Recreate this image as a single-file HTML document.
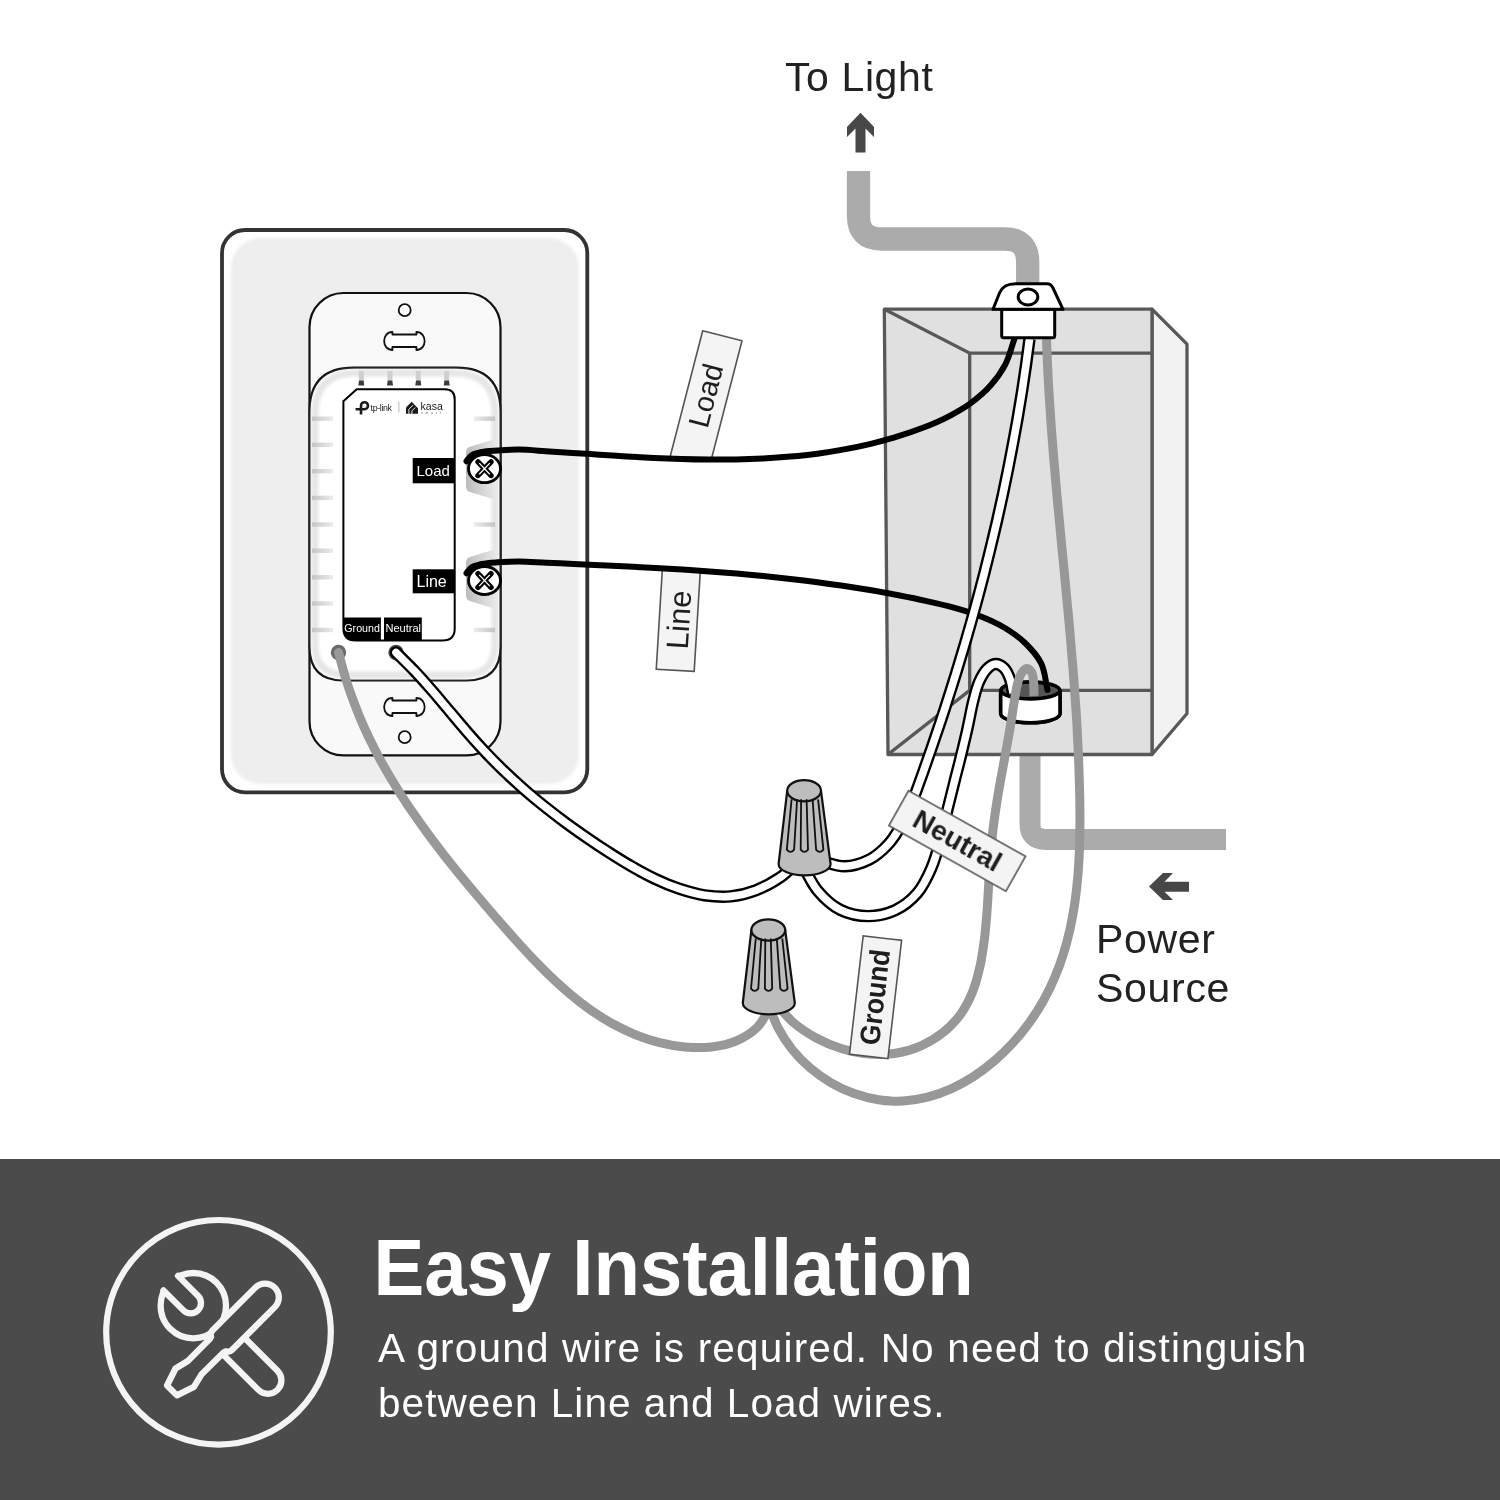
<!DOCTYPE html>
<html><head><meta charset="utf-8">
<style>
html,body{margin:0;padding:0;width:1500px;height:1500px;overflow:hidden;background:#fff;}
body{position:relative;font-family:"Liberation Sans",sans-serif;}
svg{position:absolute;left:0;top:0;font-family:"Liberation Sans",sans-serif;will-change:transform;}
.band{position:absolute;left:0;top:1159px;width:1500px;height:341px;background:#4b4b4b;}
.t{position:absolute;white-space:nowrap;color:#fff;will-change:transform;}
</style></head><body>
<div class="band"></div>
<svg width="1500" height="1500" viewBox="0 0 1500 1500">
<path d="M858.5,171 V216 Q858.5,239 881.5,239 H1004.7 Q1027.7,239 1027.7,262 V290" fill="none" stroke="#ababab" stroke-width="23.3"/>
<path d="M1030,740 V824 Q1030,839.4 1045.5,839.4 H1226" fill="none" stroke="#ababab" stroke-width="21"/>
<path d="M860.5,112.8 L874,127 V137 L865.5,128.6 V152.5 H855.5 V128.6 L847,137 V127 Z" fill="#474747"/>
<path d="M1149,886.5 L1163,873 H1173 L1164.5,881.7 H1189 V891.7 H1164.5 L1173,900 H1163 Z" fill="#474747"/>
<defs><filter id="blur1" x="-5%" y="-5%" width="110%" height="110%"><feGaussianBlur stdDeviation="1.6"/></filter><filter id="blur2" x="-10%" y="-10%" width="120%" height="120%"><feGaussianBlur stdDeviation="2.5"/></filter><linearGradient id="tickH" x1="0" x2="1" y1="0" y2="0"><stop offset="0" stop-color="#c4c4c4"/><stop offset="1" stop-color="#ececec"/></linearGradient><linearGradient id="tickHR" x1="0" x2="1" y1="0" y2="0"><stop offset="0" stop-color="#ececec"/><stop offset="1" stop-color="#c4c4c4"/></linearGradient><linearGradient id="led" x1="0" x2="0" y1="0" y2="1"><stop offset="0" stop-color="#ececec"/><stop offset="0.55" stop-color="#c4c4c4"/><stop offset="0.7" stop-color="#666"/><stop offset="1" stop-color="#444"/></linearGradient><linearGradient id="brk" x1="0" x2="1" y1="0" y2="0"><stop offset="0" stop-color="#bcbcbc"/><stop offset="1" stop-color="#e9e9e9"/></linearGradient></defs>
<rect x="222" y="230" width="365.3" height="562.3" rx="23" fill="#fff" stroke="#333" stroke-width="3.8"/>
<rect x="231" y="238" width="348" height="546" rx="30" fill="#eeeeee" filter="url(#blur1)"/>
<rect x="309.5" y="293" width="191" height="462.4" rx="34" fill="#f9f9f9" stroke="#111" stroke-width="2.2"/>
<circle cx="404.7" cy="310.2" r="6" fill="#fff" stroke="#111" stroke-width="1.8"/>
<circle cx="404.7" cy="737.2" r="6" fill="#fff" stroke="#111" stroke-width="1.8"/>
<path d="M392.4,332 C381.4,332 381.4,350 392.4,350 L392.4,347 L416.4,347 L416.4,350 C427.4,350 427.4,332 416.4,332 L416.4,334.5 L392.4,334.5 Z" fill="#fff" stroke="#111" stroke-width="1.8" stroke-linejoin="round"/>
<path d="M392.4,698 C381.4,698 381.4,716 392.4,716 L392.4,713 L416.4,713 L416.4,716 C427.4,716 427.4,698 416.4,698 L416.4,700.5 L392.4,700.5 Z" fill="#fff" stroke="#111" stroke-width="1.8" stroke-linejoin="round"/>
<path d="M309.5,411.6 Q309.5,367.6 353.5,367.6 H456.5 Q500.5,367.6 500.5,411.6 V646.5 Q500.5,680.5 466.5,680.5 H343.5 Q309.5,680.5 309.5,646.5 Z" fill="#fff" stroke="#111" stroke-width="2.2"/>
<path d="M315,414 Q315,373 356,373 H454 Q495,373 495,414 V644 Q495,675 464,675 H346 Q315,675 315,644 Z" fill="none" stroke="#e6e6e6" stroke-width="7" filter="url(#blur1)"/>
<rect x="312" y="416.5" width="21" height="4.4" fill="url(#tickH)"/>
<rect x="312" y="442.6" width="21" height="4.4" fill="url(#tickH)"/>
<rect x="312" y="469" width="21" height="4.4" fill="url(#tickH)"/>
<rect x="312" y="495.7" width="21" height="4.4" fill="url(#tickH)"/>
<rect x="312" y="522.3" width="21" height="4.4" fill="url(#tickH)"/>
<rect x="312" y="548.5" width="21" height="4.4" fill="url(#tickH)"/>
<rect x="312" y="575.1" width="21" height="4.4" fill="url(#tickH)"/>
<rect x="312" y="601.3" width="21" height="4.4" fill="url(#tickH)"/>
<rect x="312" y="627.8" width="21" height="4.4" fill="url(#tickH)"/>
<rect x="474" y="416.5" width="21" height="4.4" fill="url(#tickHR)"/>
<rect x="474" y="522.3" width="21" height="4.4" fill="url(#tickHR)"/>
<rect x="474" y="627.8" width="21" height="4.4" fill="url(#tickHR)"/>
<rect x="358.8" y="370.8" width="5" height="9.8" fill="#cfcfcf"/><path d="M359,380.4 H363.6 L364.3,385.5 H358.3 Z" fill="#3c3c3c"/>
<rect x="387.5" y="370.8" width="5" height="9.8" fill="#cfcfcf"/><path d="M387.7,380.4 H392.3 L393,385.5 H387 Z" fill="#3c3c3c"/>
<rect x="415.8" y="370.8" width="5" height="9.8" fill="#cfcfcf"/><path d="M416,380.4 H420.6 L421.3,385.5 H415.3 Z" fill="#3c3c3c"/>
<rect x="444.2" y="370.8" width="5" height="9.8" fill="#cfcfcf"/><path d="M444.4,380.4 H449 L449.7,385.5 H443.7 Z" fill="#3c3c3c"/>
<path d="M470,446.7 L496,438.7 V500 L470,492 Q466,491 466,486 V452.7 Q466,447.7 470,446.7 Z" fill="url(#brk)"/>
<path d="M470,557 L496,549 V609 L470,601 Q466,600 466,595 V563 Q466,558 470,557 Z" fill="url(#brk)"/>
<path d="M356.7,389.3 H444.7 Q454.7,389.3 454.7,399.3 V628.6 Q454.7,640.6 442.7,640.6 H355.4 Q343.4,640.6 343.4,628.6 V401.2 Z" fill="#fff" stroke="#000" stroke-width="2"/>
<rect x="412.7" y="458" width="42" height="25.3" fill="#000"/>
<rect x="412.7" y="569.3" width="42" height="24" fill="#000"/>
<path d="M343.4,617.5 H380.9 V640.6 H355.4 Q343.4,640.6 343.4,628.6 Z" fill="#000"/>
<rect x="384" y="617.5" width="37.8" height="23.1" fill="#000"/>
<text x="416.5" y="476" font-size="15" fill="#fff">Load</text>
<text x="416.5" y="586.8" font-size="16" fill="#fff">Line</text>
<text x="344.3" y="632.3" font-size="10.5" fill="#fff" textLength="35.6" lengthAdjust="spacingAndGlyphs">Ground</text>
<text x="385.4" y="632.3" font-size="10.5" fill="#fff" textLength="35.7" lengthAdjust="spacingAndGlyphs">Neutral</text>
<path d="M361,414.5 V405.7 A3.5,3.5 0 1 1 364.5,409.2 H355.6" stroke="#1a1a1a" stroke-width="2.6" fill="none"/>
<text x="370.6" y="411.3" font-size="8.6" fill="#1a1a1a" letter-spacing="-0.35" textLength="21" lengthAdjust="spacingAndGlyphs">tp-link</text>
<rect x="398.5" y="401.5" width="0.8" height="11" fill="#aaa"/>
<path d="M406,413.7 V407.6 L411.6,401.8 L418,408.2 V413.7 Z" fill="#1a1a1a"/><path d="M408.9,414.2 V409.3 L412.9,405.2 M411.9,414.2 V410.9 L415.2,407.6" fill="none" stroke="#fff" stroke-width="0.9"/>
<text x="420.5" y="409.6" font-size="10.8" fill="#1a1a1a" textLength="22.3" lengthAdjust="spacingAndGlyphs">kasa</text>
<text x="421" y="414" font-size="3.4" fill="#666" letter-spacing="2.9">smart</text>
<path d="M1152,309.2 L1187,344.2 V713.5 L1152,754.5 Z" fill="#f2f2f2" stroke="#585858" stroke-width="3.3" stroke-linejoin="round"/>
<path d="M884.3,309.2 H1152 V754.5 H888 Z" fill="#e0e0e0" stroke="#585858" stroke-width="3.3" stroke-linejoin="round"/>
<path d="M884.3,309.2 L969.7,353.2 H1152 M969.7,353.2 V690.4 H1152 M888,754.5 L969.7,690.4" fill="none" stroke="#585858" stroke-width="3.3"/>
<path d="M1000.7,690.7 V714 A29.7,9.3 0 0 0 1060,714 V690.7" fill="#fff" stroke="#000" stroke-width="3.6"/>
<ellipse cx="1030.3" cy="690.7" rx="29.7" ry="8.8" fill="#555" stroke="#000" stroke-width="3.6"/>
<circle cx="338.5" cy="652.5" r="7.7" fill="#6a6a6a"/>
<circle cx="396" cy="652.5" r="7.7" fill="#4a4a4a"/>
<ellipse cx="484.5" cy="468.7" rx="16" ry="14" fill="#fff" stroke="#000" stroke-width="2.8"/>
<path d="M478,461.9 L491,475.5 M491,461.9 L478,475.5" stroke="#000" stroke-width="5.4" stroke-linecap="round"/>
<path d="M479.2,463.1 L489.8,474.3 M489.8,463.1 L479.2,474.3" stroke="#fff" stroke-width="1.3"/>
<ellipse cx="484.5" cy="580.5" rx="16" ry="14" fill="#fff" stroke="#000" stroke-width="2.8"/>
<path d="M478,573.7 L491,587.3 M491,573.7 L478,587.3" stroke="#000" stroke-width="5.4" stroke-linecap="round"/>
<path d="M479.2,574.9 L489.8,586.1 M489.8,574.9 L479.2,586.1" stroke="#fff" stroke-width="1.3"/>
<path d="M702.7,330.7 L742,340.8 L711.3,459.5 L669.4,459.5 Z" fill="#f4f4f4" stroke="#555" stroke-width="1.6" stroke-linejoin="round"/><g transform="translate(705.5,395.5) rotate(-75.5)"><text x="0" y="10.4" font-size="29" fill="#1e1e1e" text-anchor="middle">Load</text></g>
<g transform="translate(678.3,619.7) rotate(3.5)"><rect x="-19" y="-50.8" width="38" height="101.5" fill="#f4f4f4" stroke="#555" stroke-width="1.6"/><g transform="rotate(-90)"><text x="0" y="11.2" font-size="31" font-weight="400" fill="#1e1e1e" text-anchor="middle" letter-spacing="0">Line</text></g></g>
<path d="M768,1002 C771.2,1010.4 773.6,1019.2 777.7,1027.1 C781.7,1034.9 786.6,1042.4 792,1049.2 C797.4,1056 803.5,1062.3 810.1,1067.9 C816.6,1073.5 823.7,1078.5 831.1,1082.8 C838.4,1087 846.3,1090.7 854.2,1093.5 C862.1,1096.3 870.3,1098.4 878.5,1099.7 C886.7,1100.9 895.1,1101.4 903.2,1101 C911.4,1100.6 919.6,1099.2 927.5,1097.2 C935.5,1095.2 943.5,1092.3 951.1,1088.9 C958.7,1085.4 966.2,1081.2 973.4,1076.6 C980.6,1071.9 987.6,1066.6 994.2,1061 C1000.8,1055.3 1007.1,1049.1 1013,1042.7 C1018.9,1036.3 1024.5,1029.4 1029.6,1022.3 C1034.6,1015.3 1039.3,1008 1043.5,1000.5 C1047.7,993.1 1051.4,985.4 1054.7,977.6 C1058,969.9 1060.9,961.9 1063.4,953.9 C1066,945.8 1068.1,937.6 1070,929.3 C1071.8,921 1073.3,912.6 1074.6,904.2 C1075.9,895.7 1076.8,887.2 1077.6,878.6 C1078.4,870 1078.9,861.3 1079.3,852.7 C1079.7,844 1079.9,835.3 1079.9,826.6 C1080,817.9 1079.9,809.2 1079.8,800.5 C1079.7,791.8 1079.4,783.1 1079.1,774.4 C1078.9,765.8 1078.5,757.2 1078.1,748.6 C1077.7,740 1077.3,731.4 1076.8,722.8 C1076.3,714.3 1075.7,705.7 1075.1,697.2 C1074.5,688.7 1073.9,680.1 1073.2,671.6 C1072.5,663.1 1071.8,654.6 1071.1,646.2 C1070.4,637.7 1069.6,629.2 1068.9,620.7 C1068.1,612.3 1067.3,603.8 1066.5,595.3 C1065.7,586.9 1064.9,578.4 1064.1,570 C1063.3,561.5 1062.4,553 1061.6,544.6 C1060.8,536.1 1060,527.6 1059.2,519.1 C1058.4,510.7 1057.6,502.2 1056.8,493.7 C1056,485.2 1055.3,476.7 1054.6,468.2 C1053.8,459.6 1053.1,451.1 1052.5,442.6 C1051.8,434 1051.1,425.5 1050.6,416.9 C1050,408.3 1049.4,399.7 1048.9,391.1 C1048.4,382.4 1047.9,373.8 1047.5,365.1 C1047.1,356.4 1046.8,347.7 1046.5,339" fill="none" stroke="#989898" stroke-width="9"/>
<path d="M466.5,461.2 C468.2,459.3 469.3,457 471.5,455.5 C474.1,453.7 477.9,452.8 481.7,452 C486.4,451 492,450.9 497.7,450.5 C504.3,450.1 511.5,449.5 519,449.6 C527.4,449.7 536.7,450.6 545.6,451.2 C554.5,451.7 563.5,452.3 572.5,452.9 C581.4,453.5 590.5,454.1 599.5,454.7 C608.5,455.3 617.6,455.9 626.6,456.4 C635.7,457 644.8,457.5 653.9,457.9 C663,458.3 672.1,458.7 681.2,459 C690.4,459.3 699.5,459.5 708.6,459.6 C717.7,459.6 726.8,459.6 735.9,459.4 C745,459.3 754.1,459 763.2,458.5 C772.2,458.1 781.3,457.5 790.3,456.6 C799.3,455.8 808.3,454.9 817.3,453.7 C826.3,452.5 835.2,451.1 844.1,449.4 C853,447.8 861.9,445.9 870.7,443.8 C879.5,441.7 888.3,439.3 897,436.6 C905.7,434 914.4,431.1 922.9,427.8 C931.4,424.5 939.9,421 947.9,416.8 C955.8,412.7 963.7,408.3 970.8,403.1 C977.8,397.9 984.6,392.3 990.3,385.8 C996.1,379.4 1001.3,372.2 1005.4,364.4 C1009.5,356.3 1011.6,346.8 1014.7,338" fill="none" stroke="#000" stroke-width="6" stroke-linecap="round"/>
<path d="M466.5,573.2 C468.2,571.3 469.3,569 471.5,567.5 C474.1,565.7 477.9,564.9 481.7,564 C486.4,563 492,562.7 497.7,562.3 C504.3,561.8 511.5,561.4 519,561.4 C527.6,561.4 537.3,562.3 546.5,562.7 C555.6,563.1 564.7,563.6 573.8,564 C582.9,564.4 592,564.8 601.1,565.2 C610.1,565.7 619.2,566.1 628.3,566.6 C637.3,567 646.3,567.5 655.4,568 C664.4,568.5 673.4,569.1 682.4,569.6 C691.4,570.2 700.5,570.8 709.5,571.5 C718.5,572.1 727.5,572.8 736.5,573.6 C745.5,574.4 754.4,575.2 763.4,576.1 C772.4,577 781.4,577.9 790.4,578.9 C799.4,579.9 808.4,581 817.4,582.2 C826.4,583.4 835.4,584.6 844.4,586 C853.4,587.4 862.4,588.8 871.4,590.3 C880.5,591.9 889.5,593.5 898.5,595.3 C907.6,597.1 916.6,598.9 925.7,600.9 C934.7,602.9 943.9,604.9 952.8,607.4 C961.6,609.8 970.5,612.4 979,615.7 C987.3,618.9 995.6,622.5 1003.3,627 C1010.8,631.4 1018.3,636.5 1024.6,642.5 C1030.9,648.6 1037.4,655.6 1041.2,663.4 C1045.1,671.4 1045.4,681.1 1047.5,690" fill="none" stroke="#000" stroke-width="6" stroke-linecap="round"/>
<path d="M818,860 C826.9,862.1 836,866.4 844.6,866.3 C853,866.1 861.7,863.4 869.1,859.7 C876.3,856 882.8,850.2 888.4,844.1 C894.1,837.9 898.5,830.3 902.7,822.7 C907,815 910.3,806.4 913.7,798 C917,789.7 919.9,781 923,772.6 C925.9,764.2 928.8,756 931.7,747.7 C934.5,739.5 937.3,731.2 940.1,723 C942.9,714.7 945.6,706.4 948.2,698.1 C950.9,689.8 953.5,681.4 956.1,673.1 C958.7,664.7 961.2,656.3 963.7,647.9 C966.2,639.5 968.6,631.1 971,622.6 C973.4,614.2 975.7,605.7 978,597.2 C980.3,588.7 982.5,580.3 984.7,571.7 C986.8,563.2 989,554.7 991,546.1 C993.1,537.6 995.1,529 997.1,520.5 C999,511.9 1000.9,503.3 1002.8,494.7 C1004.6,486.1 1006.4,477.5 1008.1,468.9 C1009.8,460.3 1011.5,451.6 1013.1,443 C1014.7,434.4 1016.3,425.7 1017.8,417.1 C1019.3,408.4 1020.7,399.7 1022.1,391.1 C1023.4,382.4 1024.7,373.7 1026,365 C1027.2,356.4 1028.3,347.7 1029.5,339" fill="none" stroke="#000" stroke-width="12.4" stroke-linecap="butt"/><path d="M818,860 C826.9,862.1 836,866.4 844.6,866.3 C853,866.1 861.7,863.4 869.1,859.7 C876.3,856 882.8,850.2 888.4,844.1 C894.1,837.9 898.5,830.3 902.7,822.7 C907,815 910.3,806.4 913.7,798 C917,789.7 919.9,781 923,772.6 C925.9,764.2 928.8,756 931.7,747.7 C934.5,739.5 937.3,731.2 940.1,723 C942.9,714.7 945.6,706.4 948.2,698.1 C950.9,689.8 953.5,681.4 956.1,673.1 C958.7,664.7 961.2,656.3 963.7,647.9 C966.2,639.5 968.6,631.1 971,622.6 C973.4,614.2 975.7,605.7 978,597.2 C980.3,588.7 982.5,580.3 984.7,571.7 C986.8,563.2 989,554.7 991,546.1 C993.1,537.6 995.1,529 997.1,520.5 C999,511.9 1000.9,503.3 1002.8,494.7 C1004.6,486.1 1006.4,477.5 1008.1,468.9 C1009.8,460.3 1011.5,451.6 1013.1,443 C1014.7,434.4 1016.3,425.7 1017.8,417.1 C1019.3,408.4 1020.7,399.7 1022.1,391.1 C1023.4,382.4 1024.7,373.7 1026,365 C1027.2,356.4 1028.3,347.7 1029.5,339" fill="none" stroke="#fff" stroke-width="7.6" stroke-linecap="butt"/>
<path d="M803,866 C808,874.3 811.7,883.7 817.9,891 C824.2,898.4 831.9,905.7 840.4,909.9 C848.7,914 859,916.1 868.2,916.1 C877.4,916.1 887.6,913.8 895.8,909.9 C903.9,906.1 911.4,899.9 917.3,893.1 C923.3,886 927.5,877 931.3,868.2 C935.3,859.1 937.8,849 940.5,839.3 C943.1,829.7 945.1,819.8 947.3,810.4 C949.5,801.3 951.7,792.6 953.9,783.9 C956,775.2 958.3,766.9 960.4,758.2 C962.6,749.2 964.8,740.3 966.9,731 C969.2,721 971.2,708.9 973.5,700 C975.3,693.1 976.6,687.4 979,682 C981.2,677.2 983.9,672.1 987,669 C989.5,666.5 992.6,664.1 995.5,664 C998.3,663.9 1001.7,665.8 1004,668 C1006.7,670.5 1008.5,675 1010,679 C1011.6,683.3 1012,688.3 1013,693" fill="none" stroke="#000" stroke-width="12.4" stroke-linecap="butt"/><path d="M803,866 C808,874.3 811.7,883.7 817.9,891 C824.2,898.4 831.9,905.7 840.4,909.9 C848.7,914 859,916.1 868.2,916.1 C877.4,916.1 887.6,913.8 895.8,909.9 C903.9,906.1 911.4,899.9 917.3,893.1 C923.3,886 927.5,877 931.3,868.2 C935.3,859.1 937.8,849 940.5,839.3 C943.1,829.7 945.1,819.8 947.3,810.4 C949.5,801.3 951.7,792.6 953.9,783.9 C956,775.2 958.3,766.9 960.4,758.2 C962.6,749.2 964.8,740.3 966.9,731 C969.2,721 971.2,708.9 973.5,700 C975.3,693.1 976.6,687.4 979,682 C981.2,677.2 983.9,672.1 987,669 C989.5,666.5 992.6,664.1 995.5,664 C998.3,663.9 1001.7,665.8 1004,668 C1006.7,670.5 1008.5,675 1010,679 C1011.6,683.3 1012,688.3 1013,693" fill="none" stroke="#fff" stroke-width="7.6" stroke-linecap="butt"/>
<path d="M396,652.5 C402.2,658.7 408.7,664.8 414.7,671.2 C420.8,677.6 426.6,684.3 432.5,691 C438.3,697.7 444,704.7 449.8,711.5 C455.5,718.3 461.2,725.2 467.1,731.9 C472.9,738.6 478.8,745.2 484.9,751.7 C490.9,758.1 497.1,764.4 503.5,770.5 C509.8,776.6 516.3,782.5 522.9,788.3 C529.5,794.1 536.2,799.8 543,805.3 C549.9,810.8 556.9,816.2 564,821.5 C571.1,826.7 578.3,831.9 585.6,836.9 C592.9,842 600.3,847 607.9,851.8 C615.4,856.6 623,861.5 630.8,865.9 C638.6,870.4 646.5,874.8 654.5,878.6 C662.5,882.4 670.7,885.9 679,888.7 C687.4,891.5 695.9,894 704.5,895.3 C713.1,896.5 721.9,897.2 730.5,896.4 C739.2,895.5 747.9,893.3 756.1,890.2 C764.4,887.1 772.5,882.7 779.8,877.7 C787.1,872.6 793.3,865.9 800,860" fill="none" stroke="#000" stroke-width="12.4" stroke-linecap="round"/><path d="M396,652.5 C402.2,658.7 408.7,664.8 414.7,671.2 C420.8,677.6 426.6,684.3 432.5,691 C438.3,697.7 444,704.7 449.8,711.5 C455.5,718.3 461.2,725.2 467.1,731.9 C472.9,738.6 478.8,745.2 484.9,751.7 C490.9,758.1 497.1,764.4 503.5,770.5 C509.8,776.6 516.3,782.5 522.9,788.3 C529.5,794.1 536.2,799.8 543,805.3 C549.9,810.8 556.9,816.2 564,821.5 C571.1,826.7 578.3,831.9 585.6,836.9 C592.9,842 600.3,847 607.9,851.8 C615.4,856.6 623,861.5 630.8,865.9 C638.6,870.4 646.5,874.8 654.5,878.6 C662.5,882.4 670.7,885.9 679,888.7 C687.4,891.5 695.9,894 704.5,895.3 C713.1,896.5 721.9,897.2 730.5,896.4 C739.2,895.5 747.9,893.3 756.1,890.2 C764.4,887.1 772.5,882.7 779.8,877.7 C787.1,872.6 793.3,865.9 800,860" fill="none" stroke="#fff" stroke-width="7.6" stroke-linecap="round"/>
<path d="M1000.7,690.7 A29.7,8.8 0 0 0 1060,690.7 V714 A29.7,9.3 0 0 1 1000.7,714 Z" fill="#fff" stroke="#000" stroke-width="3.6" stroke-linejoin="round"/>
<path d="M776,1004 C781.9,1010.3 787.1,1017.2 793.8,1022.9 C800.5,1028.6 808.3,1033.7 816.3,1038 C824.3,1042.4 833.1,1046 841.9,1048.7 C850.7,1051.4 859.9,1053.3 869,1054 C877.9,1054.8 887.1,1054.6 895.8,1053.2 C904.5,1051.8 913.1,1049.3 921,1045.8 C928.8,1042.4 936.4,1037.9 943,1032.6 C949.6,1027.3 955.7,1021 960.7,1014.1 C965.6,1007.3 969.5,999.4 972.8,991.3 C976.1,983.2 978.2,974.3 980.2,965.6 C982.1,956.7 983.3,947.6 984.5,938.6 C985.6,929.5 986.3,920.5 987,911.5 C987.7,902.5 988.1,893.4 988.7,884.5 C989.2,875.5 989.6,866.6 990.3,857.7 C991,848.8 991.8,840 992.8,831.2 C993.8,822.4 995.1,813.7 996.4,805 C997.7,796.3 999.3,787.6 1000.8,779 C1002.4,770.3 1004,761.6 1005.6,752.9 C1007.2,744.1 1008.8,735.4 1010.3,726.6 C1011.8,717.8 1013.2,707.5 1014.5,700 C1015.4,694.6 1015.9,690.4 1017,686 C1018.1,681.8 1019.1,677.1 1021,674 C1022.5,671.6 1024.6,668.7 1026.5,668.5 C1028.1,668.4 1030.3,670.3 1031.5,672 C1032.9,674.1 1033.1,677.6 1033.5,681 C1034.1,685.3 1033.8,691 1034,696" fill="none" stroke="#989898" stroke-width="9"/>
<path d="M338.5,652.5 C340.8,661 342.9,669.6 345.5,678 C348.1,686.4 350.9,694.6 354,702.7 C357,710.8 360.3,718.8 363.8,726.6 C367.3,734.4 371.1,742.2 375,749.8 C378.9,757.4 383,764.9 387.3,772.3 C391.6,779.7 396.1,787 400.7,794.3 C405.3,801.5 410.1,808.7 415,815.7 C419.9,822.8 424.9,829.8 430.1,836.8 C435.3,843.8 440.6,850.6 445.9,857.5 C451.3,864.4 456.8,871.1 462.4,877.9 C467.9,884.7 473.6,891.4 479.3,898.1 C485,904.9 490.7,911.5 496.5,918.2 C502.4,924.9 508.2,931.6 514.1,938.2 C520,944.8 526,951.4 532.1,957.8 C538.2,964.1 544.3,970.4 550.6,976.5 C556.9,982.5 563.3,988.4 570,993.9 C576.5,999.4 583.3,1004.8 590.3,1009.7 C597.2,1014.5 604.3,1019.2 611.7,1023.3 C619.1,1027.4 626.7,1031.1 634.5,1034.3 C642.4,1037.5 650.5,1040.2 658.8,1042.3 C667.2,1044.5 676,1046.1 684.8,1046.9 C693.6,1047.7 702.7,1048 711.4,1047 C719.9,1046 728.7,1044.3 736.4,1040.9 C744,1037.6 751.5,1033 757.4,1027.1 C763.5,1020.8 767.1,1011.7 772,1004" fill="none" stroke="#989898" stroke-width="9" stroke-linecap="round"/>
<rect x="1001.7" y="309.3" width="53" height="28.4" rx="2" fill="#fff" stroke="#000" stroke-width="3"/>
<path d="M993,309.3 L999.5,293 C1002,287 1006,283.7 1016,283.7 H1047 Q1051,283.7 1053,288 L1063,309.3 Z" fill="#fff" stroke="#000" stroke-width="3" stroke-linejoin="round"/>
<ellipse cx="1028" cy="297" rx="9.8" ry="8" fill="#fff" stroke="#000" stroke-width="3"/>
<path d="M787.2,790.8 L778.6,864 A26,11.3 0 0 0 830.6,864 L821,790.8 Z" fill="#bdbdbd" stroke="#111" stroke-width="2.2" stroke-linejoin="round"/><ellipse cx="804.1" cy="790.8" rx="16.9" ry="10.6" fill="#bdbdbd" stroke="#111" stroke-width="2.2"/><path d="M791.6,799.3 L786.8,849.6 Q790.5,854.1 794.1,849.6 L797.1,799.3" fill="none" stroke="#111" stroke-width="1.8"/><path d="M801.1,799.3 L800.7,849.6 Q804.4,854.1 808,849.6 L806.6,799.3" fill="none" stroke="#111" stroke-width="1.8"/><path d="M812.6,799.3 L816.1,849.6 Q819.8,854.1 823.4,849.6 L818.1,799.3" fill="none" stroke="#111" stroke-width="1.8"/>
<path d="M751.4,930 L742.8,1003 A26,11.3 0 0 0 794.8,1003 L785.2,930 Z" fill="#bdbdbd" stroke="#111" stroke-width="2.2" stroke-linejoin="round"/><ellipse cx="768.3" cy="930" rx="16.9" ry="10.6" fill="#bdbdbd" stroke="#111" stroke-width="2.2"/><path d="M755.8,938.5 L751,988.6 Q754.6,993.1 758.3,988.6 L761.3,938.5" fill="none" stroke="#111" stroke-width="1.8"/><path d="M765.3,938.5 L764.9,988.6 Q768.5,993.1 772.2,988.6 L770.8,938.5" fill="none" stroke="#111" stroke-width="1.8"/><path d="M776.8,938.5 L780.3,988.6 Q783.9,993.1 787.6,988.6 L782.3,938.5" fill="none" stroke="#111" stroke-width="1.8"/>
<g transform="translate(957.2,841) rotate(29.3)"><rect x="-67.1" y="-20.1" width="134.2" height="40.1" fill="#f4f4f4" stroke="#555" stroke-width="1.6"/><g transform="rotate(0)"><text x="0" y="8.6" font-size="28" font-weight="700" fill="#1e1e1e" text-anchor="middle" letter-spacing="0">Neutral</text></g></g>
<g transform="translate(875.6,997.2) rotate(6.6)"><rect x="-19.4" y="-59.5" width="38.7" height="119.1" fill="#f4f4f4" stroke="#555" stroke-width="1.6"/><g transform="rotate(-90)"><text x="0" y="9" font-size="28.5" font-weight="700" fill="#1e1e1e" text-anchor="middle" letter-spacing="0" textLength="96" lengthAdjust="spacingAndGlyphs">Ground</text></g></g>

<g transform="translate(373.5,1294.7) scale(0.963,1)"><text x="0" y="0" font-size="79" font-weight="700" fill="#fff">Easy Installation</text></g>
<text x="378" y="1362" font-size="40.5" fill="#fff" letter-spacing="1.19">A ground wire is required. No need to distinguish</text>
<text x="378" y="1416.8" font-size="40.5" fill="#fff" letter-spacing="1.05">between Line and Load wires.</text>
<text x="785" y="91.1" font-size="41" fill="#222" letter-spacing="0.6">To Light</text>
<text x="1096" y="952.7" font-size="41" fill="#222" letter-spacing="0.7">Power</text>
<text x="1096" y="1002.2" font-size="41" fill="#222" letter-spacing="0.7">Source</text>

<g id="icon" fill="#4b4b4b" stroke="#f4f4f4" stroke-width="6.3" stroke-linejoin="round">
  <circle cx="218.5" cy="1332.3" r="112.3" fill="none" stroke-width="6.2"/>
  <g transform="translate(219.2,1331.6) rotate(45)">
    <rect x="-36.6" y="-13.5" width="119" height="27" rx="13.5"/>
    <circle cx="-36.6" cy="0" r="32.7"/>
    <rect x="-80" y="-10.3" width="40" height="20.6" stroke="none"/>
    <path d="M-68.5,-10.3 H-40.3 A10.3,10.3 0 0 1 -40.3,10.3 H-68.5" fill="none" stroke-linecap="round"/>
  </g>
  <g transform="translate(224.3,1338.1) rotate(-45)">
    <path d="M57.6,-13.8 A13.8,13.8 0 0 1 57.6,13.8 H-3 A6,6 0 0 1 -8.4,10.3 L-11,9.6 H-42 L-56,13 L-74,7 V-7 L-56,-13 L-42,-9.6 H-11 L-8.4,-10.3 A6,6 0 0 1 -3,-13.8 Z"/>
  </g>
</g>
</svg>


</body></html>
